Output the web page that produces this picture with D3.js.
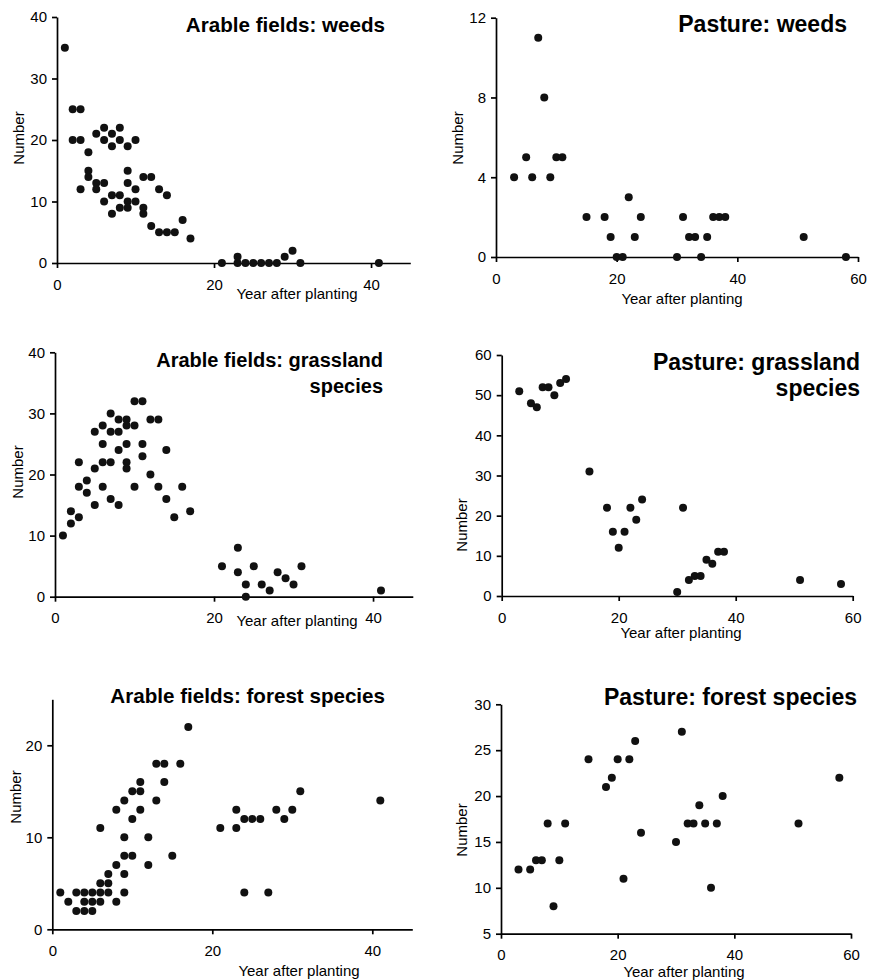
<!DOCTYPE html>
<html>
<head>
<meta charset="utf-8">
<script src="https://cdn.jsdelivr.net/npm/d3@7"></script>
<style>
  body { margin: 0; background: #fff; }
  svg { display: block; font-family: Arial, "Liberation Sans", Helvetica, sans-serif; }
  .axis path, .axis line { stroke: #000; stroke-width: 1.7; }
  .axis text { font-size: 15px; fill: #000; }
</style>
</head>
<body>
<div id="chart"></div>
<script>
// [year after planting, number of species]
const arableWeeds = [
  [1,35],[2,25],[3,25],[2,20],[3,20],[3,12],[4,18],[4,15],[4,14],[5,21],[5,13],[5,12],
  [6,22],[6,20],[6,13],[6,10],[7,21],[7,19],[7,11],[7,8],[8,22],[8,20],[8,11],[8,9],
  [9,19],[9,15],[9,13],[9,10],[9,9],[10,20],[10,12],[10,10],[11,14],[11,9],[11,8],
  [12,14],[12,6],[13,12],[13,5],[14,11],[14,5],[15,5],[16,7],[17,4],
  [21,0],[23,1],[23,0],[24,0],[25,0],[26,0],[27,0],[28,0],[29,1],[30,2],[31,0],[41,0]
];
const pastureWeeds = [
  [3,4],[5,5],[6,4],[7,11],[8,8],[9,4],[10,5],[11,5],[15,2],[18,2],[19,1],[20,0],[21,0],
  [22,3],[23,1],[24,2],[30,0],[31,2],[32,1],[33,1],[34,0],[35,1],[36,2],[37,2],[38,2],
  [51,1],[58,0]
];
const arableGrass = [
  [1,10],[2,12],[2,14],[3,13],[3,18],[3,22],[4,19],[4,17],[5,27],[5,21],[5,15],
  [6,28],[6,25],[6,22],[6,18],[7,30],[7,27],[7,22],[7,16],[8,29],[8,27],[8,24],[8,15],
  [9,29],[9,28],[9,25],[9,22],[9,21],[10,32],[10,28],[10,18],[11,32],[11,25],[11,23],
  [12,29],[12,20],[13,29],[13,18],[14,24],[14,16],[15,13],[16,18],[17,14],
  [21,5],[23,8],[23,4],[24,2],[24,0],[25,5],[26,2],[27,1],[28,4],[29,3],[30,2],[31,5],[41,1]
];
const pastureGrass = [
  [3,51],[5,48],[6,47],[7,52],[8,52],[9,50],[10,53],[11,54],[15,31],[18,22],[19,16],
  [20,12],[21,16],[22,22],[23,19],[24,24],[30,1],[31,22],[32,4],[33,5],[34,5],[35,9],
  [36,8],[37,11],[38,11],[51,4],[58,3]
];
const arableForest = [
  [1,4],[2,3],[3,4],[3,2],[4,4],[4,3],[4,2],[5,4],[5,3],[5,2],[6,11],[6,5],[6,4],[6,3],
  [7,6],[7,5],[7,4],[8,13],[8,7],[8,3],[9,14],[9,10],[9,8],[9,6],[9,4],[10,15],[10,12],
  [10,8],[11,16],[11,15],[11,13],[12,10],[12,7],[13,18],[13,14],[14,18],[14,16],[15,8],
  [16,18],[17,22],[21,11],[23,13],[23,11],[24,12],[25,12],[26,12],[24,4],[27,4],[28,13],
  [29,12],[30,13],[31,15],[41,14]
];
const pastureForest = [
  [3,12],[5,12],[6,13],[7,13],[8,17],[9,8],[10,13],[11,17],[15,24],[18,21],[19,22],
  [20,24],[21,11],[22,24],[23,26],[24,16],[30,15],[31,27],[32,17],[33,17],[34,19],
  [35,17],[36,10],[37,17],[38,20],[51,17],[58,22]
];

const arableXTicks = [0, 20, 40];
const pastureXTicks = [0, 20, 40, 60];

const panels = [
  { title: ["Arable fields: weeds"], data: arableWeeds, xDomain: [0, 45], yDomain: [0, 40], xTicks: arableXTicks, yTicks: [0, 10, 20, 30, 40] },
  { title: ["Pasture: weeds"], data: pastureWeeds, xDomain: [0, 60], yDomain: [0, 12], xTicks: pastureXTicks, yTicks: [0, 4, 8, 12] },
  { title: ["Arable fields: grassland", "species"], data: arableGrass, xDomain: [0, 45], yDomain: [0, 40], xTicks: arableXTicks, yTicks: [0, 10, 20, 30, 40] },
  { title: ["Pasture: grassland", "species"], data: pastureGrass, xDomain: [0, 60], yDomain: [0, 60], xTicks: pastureXTicks, yTicks: [0, 10, 20, 30, 40, 50, 60] },
  { title: ["Arable fields: forest species"], data: arableForest, xDomain: [0, 45], yDomain: [0, 25], xTicks: arableXTicks, yTicks: [0, 10, 20] },
  { title: ["Pasture: forest species"], data: pastureForest, xDomain: [0, 60], yDomain: [5, 30], xTicks: pastureXTicks, yTicks: [5, 10, 15, 20, 25, 30] }
];

// pixel boxes of each panel (left, right, top, bottom of the plot area) + text spots
const layout = [
  { x0: 57, x1: 410.3, yTop: 17, yBot: 263, titleX: 385, titleY: 32, titleSize: 20.6, xLab: [297, 299], yLab: [19, 138] },
  { x0: 496, x1: 858, yTop: 17.7, yBot: 257, titleX: 847, titleY: 32, titleSize: 23, xLab: [682, 304], yLab: [458, 138] },
  { x0: 55, x1: 412.8, yTop: 352.3, yBot: 596.7, titleX: 383, titleY: 367, titleSize: 20, xLab: [297, 626], yLab: [18, 472] },
  { x0: 501.7, x1: 852.7, yTop: 355, yBot: 596, titleX: 860, titleY: 370, titleSize: 23, xLab: [681, 638], yLab: [462, 525] },
  { x0: 52.3, x1: 412.3, yTop: 699.3, yBot: 929.3, titleX: 385, titleY: 703, titleSize: 20.6, xLab: [299, 976], yLab: [16, 797] },
  { x0: 501, x1: 851, yTop: 704.3, yBot: 933.7, titleX: 857, titleY: 705, titleSize: 23, xLab: [684, 977], yLab: [462, 830] }
];

const svg = d3.select("#chart").append("svg")
  .attr("width", 870)
  .attr("height", 980);

panels.forEach((p, i) => {
  const L = layout[i];
  const x = d3.scaleLinear().domain(p.xDomain).range([L.x0, L.x1]);
  const y = d3.scaleLinear().domain(p.yDomain).range([L.yBot, L.yTop]);

  const g = svg.append("g");

  // axes
  g.append("g")
    .attr("class", "axis")
    .attr("transform", `translate(0,${L.yBot})`)
    .call(d3.axisBottom(x).tickValues(p.xTicks).tickSize(5).tickSizeOuter(0).tickPadding(11));

  g.append("g")
    .attr("class", "axis")
    .attr("transform", `translate(${L.x0},0)`)
    .call(d3.axisLeft(y).tickValues(p.yTicks).tickSize(5).tickSizeOuter(0).tickPadding(5));

  // points
  g.selectAll(".dot")
    .data(p.data)
    .enter()
    .append("circle")
    .attr("class", "dot")
    .attr("cx", d => x(d[0]))
    .attr("cy", d => y(d[1]))
    .attr("r", 4)
    .attr("fill", "#111");

  // title
  const t = g.append("text")
    .attr("text-anchor", "end")
    .attr("font-weight", "bold")
    .attr("font-size", L.titleSize)
    .attr("fill", "#000");
  p.title.forEach((line, k) => {
    t.append("tspan")
      .attr("x", L.titleX)
      .attr("y", L.titleY + k * 26)
      .text(line);
  });

  // axis titles
  g.append("text")
    .attr("x", L.xLab[0])
    .attr("y", L.xLab[1])
    .attr("text-anchor", "middle")
    .attr("font-size", 15)
    .attr("fill", "#000")
    .text("Year after planting");

  g.append("text")
    .attr("transform", `translate(${L.yLab[0]},${L.yLab[1]}) rotate(-90)`)
    .attr("dy", "0.35em")
    .attr("text-anchor", "middle")
    .attr("font-size", 15)
    .attr("fill", "#000")
    .text("Number");
});
</script>
</body>
</html>
